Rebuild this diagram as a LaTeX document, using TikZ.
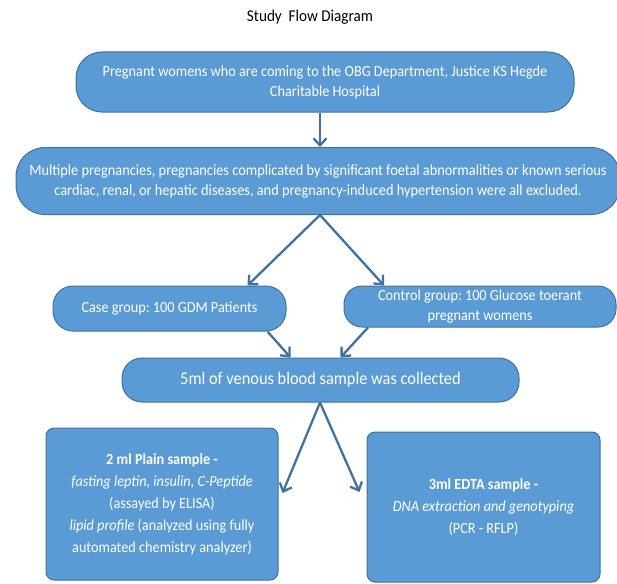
\documentclass[tikz,border=0pt]{standalone}
\usepackage{fontspec}
\setmainfont{Carlito}[FakeStretch=0.92]
\usetikzlibrary{positioning, arrows.meta}
\definecolor{boxblue}{HTML}{5B9BD5}
\definecolor{boxline}{HTML}{41719C}
\definecolor{arrowblue}{HTML}{41719C}
\frenchspacing

\begin{document}
\begin{tikzpicture}[x=1pt, y=-1pt,
    pill/.style={draw=boxline, line width=1pt, fill=boxblue, text=white, align=center,
                 inner sep=0pt, font=\fontsize{15.5}{20}\selectfont},
    card/.style={draw=boxline, line width=1pt, fill=boxblue, text=white, align=center,
                 inner sep=0pt, rounded corners=8pt, font=\fontsize{15.5}{22}\selectfont},
    flow/.style={-{Straight Barb[length=7pt, width=13pt]}, draw=arrowblue, line width=2.3pt}]
   \useasboundingbox (0,0) rectangle (617,583);
   \coordinate (axis) at (320,0);

   % Definition of the boxes
   \node (titulo) at (310,17) {\fontsize{16.5}{18}\selectfont Study\ \ Flow Diagram};
   \node[pill, rounded corners=26pt, minimum width=498pt, minimum height=60pt] (hospital) at (325,82)
        {Pregnant womens who are coming to the OBG Department, Justice KS Hegde\\ Charitable Hospital};
   \node[pill, rounded corners=29pt, minimum width=604pt, minimum height=67pt,
         font=\fontsize{15.6}{20}\selectfont] (exclusion) at (318,181)
        {Multiple pregnancies, pregnancies complicated by significant foetal abnormalities or known serious\\
         cardiac, renal, or hepatic diseases, and pregnancy-induced hypertension were all excluded.};
   \node[pill, rounded corners=20pt, minimum width=233pt, minimum height=45pt] (casegroup) at (169.5,308.5)
        {Case group: 100 GDM Patients};
   \node[pill, rounded corners=18pt, minimum width=272pt, minimum height=41pt] (controlgroup) at (480,306.5)
        {Control group: 100 Glucose toerant\\ pregnant womens};
   \node[pill, rounded corners=20pt, minimum width=397pt, minimum height=44pt,
         font=\fontsize{17.8}{20}\selectfont] (collected) at (320.5,380)
        {5ml of venous blood sample was collected};
   \node[card, minimum width=232pt, minimum height=152pt] (plain) at (162,504)
        {\textbf{2 ml Plain sample -}\\ \textit{fasting leptin, insulin, C-Peptide}\\ (assayed by ELISA)\\
         \textit{lipid profile} (analyzed using fully\\ automated chemistry analyzer)};
   \node[card, minimum width=233pt, minimum height=150pt] (edta) at (483.5,507)
        {\textbf{3ml EDTA sample -}\\ \textit{DNA extraction and genotyping}\\ (PCR - RFLP)};

   % Definition of the arrows
   \draw[flow] (hospital.south -| axis) -- (exclusion.north -| axis);
   \draw[flow] (exclusion.south -| axis) -- ([xshift=78pt]casegroup.north);
   \draw[flow] (exclusion.south -| axis) -- ([xshift=-96pt]controlgroup.north);
   \draw[flow] ([xshift=98pt]casegroup.south) -- ([xshift=-30pt]collected.north);
   \draw[flow] ([xshift=-112pt]controlgroup.south) -- ([xshift=20pt]collected.north);
   \draw[flow] (collected.south -| axis) -- ([shift={(4pt,11pt)}]plain.east);
   \draw[flow] (collected.south -| axis) -- ([shift={(-7pt,15pt)}]edta.west);
\end{tikzpicture}
\end{document}
